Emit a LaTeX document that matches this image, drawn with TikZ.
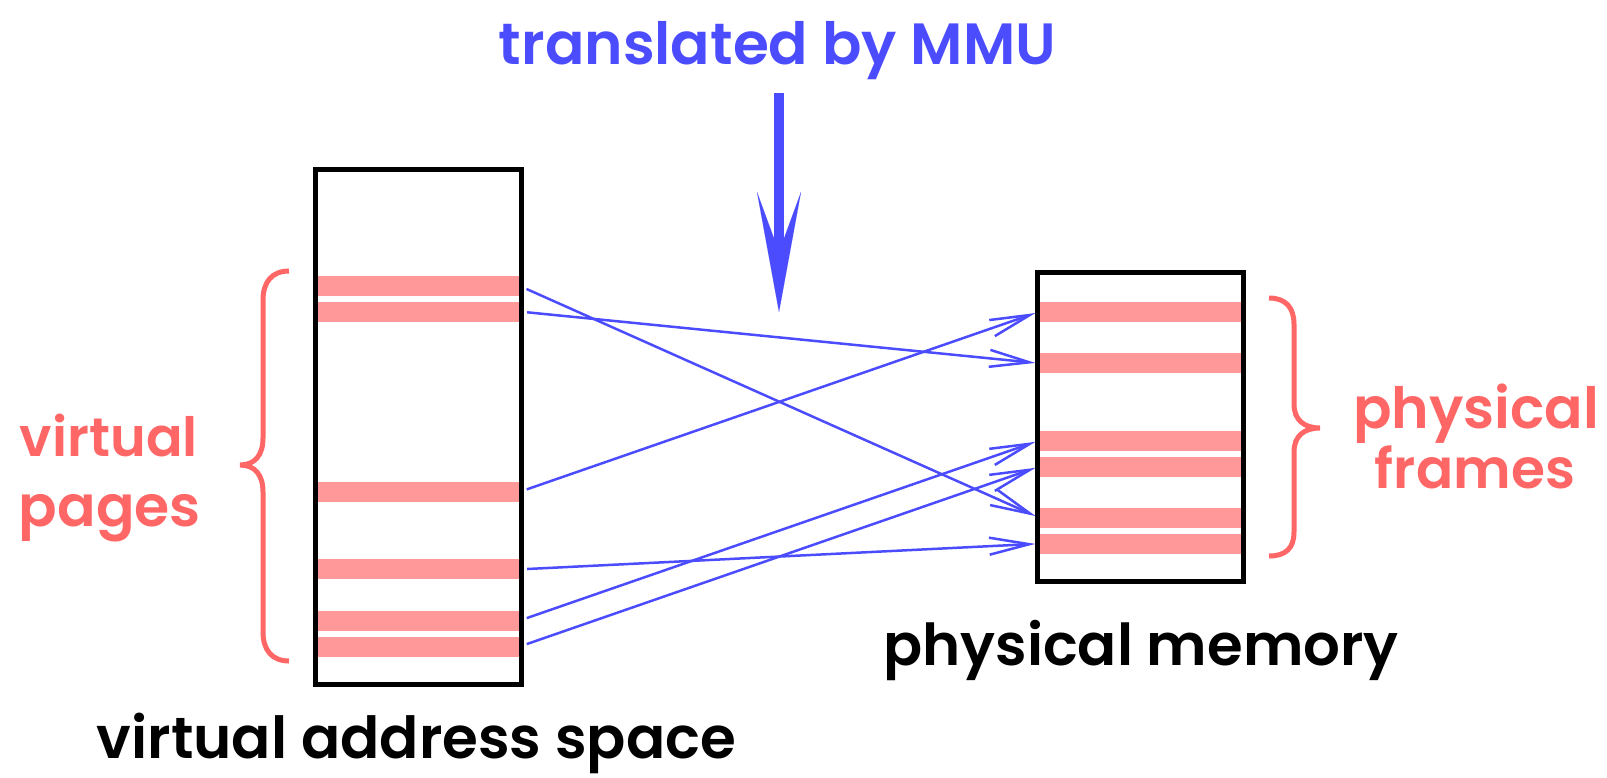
\documentclass[tikz,border=0pt]{standalone}
\usepackage{graphicx}
\usepackage{fontspec}
\newfontfamily\lblfont{Poppins SemiBold}
\usetikzlibrary{arrows.meta}
\definecolor{mmublue}{RGB}{76,76,255}
\definecolor{labelred}{RGB}{255,102,102}
\definecolor{pagefill}{RGB}{255,153,153}
% set a label in the label font, scaled to a given width
\newcommand\fitw[2]{\resizebox{#1}{!}{\lblfont #2}}

\begin{document}
\begin{tikzpicture}[x=1pt,y=-1pt,
  membox/.style={draw=black, line width=5pt, inner sep=0pt},
  pagebar/.style={fill=pagefill, inner sep=0pt, minimum width=201pt, minimum height=20pt},
  map/.style={draw=mmublue, line width=2.5pt, shorten <=8pt, shorten >=4pt,
    -{Straight Barb[length=40pt,width=17pt,line width=2.5pt]}},
  brace/.style={draw=labelred, line width=5pt},
  lbl/.style={inner sep=0pt, anchor=base},
]
\useasboundingbox (0,0) rectangle (1607,777);

% pages of the virtual address space
\node[pagebar] (v1) at (418.5,285.7) {};
\node[pagebar] (v2) at (418.5,311.5) {};
\node[pagebar] (v3) at (418.5,492.0) {};
\node[pagebar] (v4) at (418.5,569.4) {};
\node[pagebar] (v5) at (418.5,620.7) {};
\node[pagebar] (v6) at (418.5,646.7) {};
\node[membox, minimum width=206pt, minimum height=515pt] (vas) at (418.5,427) {};

% frames of physical memory
\node[pagebar] (p1) at (1140,311.7) {};
\node[pagebar] (p2) at (1140,363.3) {};
\node[pagebar] (p3) at (1140,440.5) {};
\node[pagebar] (p4) at (1140,466.5) {};
\node[pagebar] (p5) at (1140,517.7) {};
\node[pagebar] (p6) at (1140,543.7) {};
\node[membox, minimum width=206pt, minimum height=308.7pt] (pm) at (1140,427.3) {};

% page -> frame mappings
\draw[map] (v1.east) -- (p5.west);
\draw[map] (v2.east) -- (p2.west);
\draw[map] (v3.east) -- (p1.west);
\draw[map] (v4.east) -- (p6.west);
\draw[map] (v5.east) -- (p3.west);
\draw[map] (v6.east) -- (p4.west);

% the MMU arrow
\coordinate (mmutop) at (779,93);
\coordinate (mmutip) at (779,312);
\draw[mmublue, line width=10pt,
  -{Stealth[length=120pt,width=44pt,inset=60pt,line width=0.01pt]}] (mmutop) -- (mmutip);

% braces
\draw[brace] (289,271) .. controls (272,271) and (263,282) .. (263,300)
  -- (263,438) .. controls (263,455) and (255,465) .. (240,465)
  .. controls (255,465) and (263,475) .. (263,492)
  -- (263,632) .. controls (263,650) and (272,661) .. (289,661);
\draw[brace] (1269,298) .. controls (1286,298) and (1294,308) .. (1294,324)
  -- (1294,404) .. controls (1294,420) and (1304,428) .. (1320,428)
  .. controls (1304,428) and (1294,436) .. (1294,452)
  -- (1294,532) .. controls (1294,548) and (1286,556) .. (1269,556);

% labels
\node[lbl, text=mmublue] (title) at (777.5,64) {\fitw{557pt}{translated by MMU}};
\node[lbl, text=labelred] (vp1) at (109,456) {\fitw{178pt}{virtual}};
\node[lbl, text=labelred] (vp2) at (110,526.5) {\fitw{182pt}{pages}};
\node[lbl, text=labelred] (pf1) at (1476,428.3) {\fitw{246pt}{physical}};
\node[lbl, text=labelred] (pf2) at (1475,488.3) {\fitw{200pt}{frames}};
\node[lbl, text=black] (vasl) at (416.5,758) {\fitw{639pt}{virtual address space}};
\node[lbl, text=black] (pml) at (1141,665) {\fitw{515pt}{physical memory}};
\end{tikzpicture}
\end{document}
